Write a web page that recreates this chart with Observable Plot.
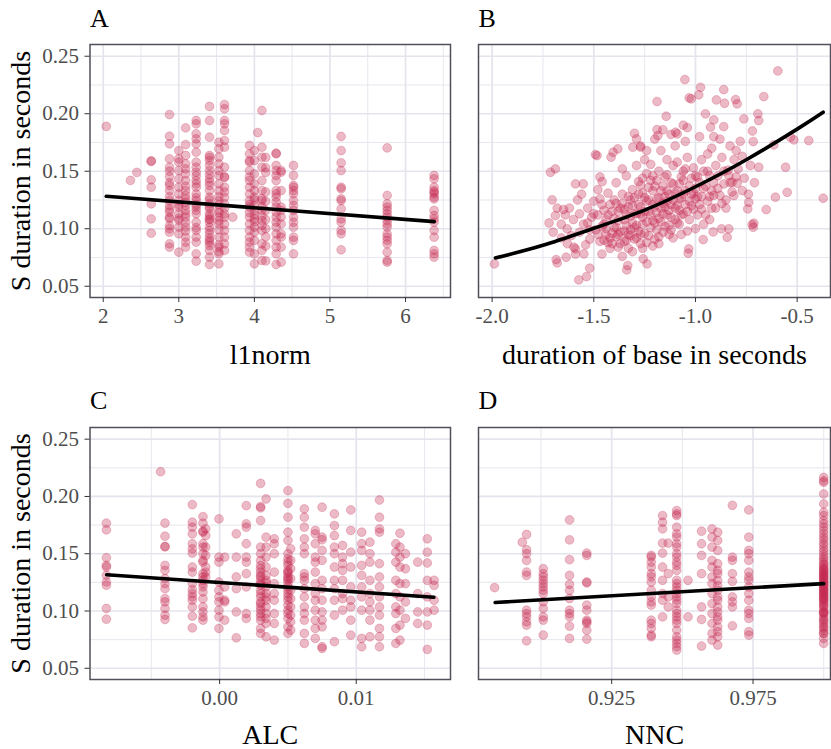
<!DOCTYPE html>
<html><head><meta charset="utf-8">
<script src="https://cdn.jsdelivr.net/npm/d3@7"></script>
<script src="https://cdn.jsdelivr.net/npm/@observablehq/plot@0.6"></script>
<style>
html,body{margin:0;padding:0;background:#fff;}
#chart{position:relative;width:831px;height:749px;font-family:"Liberation Serif",serif;}
#chart > svg{position:absolute;}
</style></head><body><div id="chart"></div>
<script>
// ---------- Panel A: l1norm (columns) ----------
const l1normX = [2.04, 2.36, 2.445, 2.635, 2.877, 3.0, 3.09, 3.23, 3.406, 3.53, 3.605, 3.714, 3.935, 4.0, 4.045, 4.10, 4.15, 4.288, 4.354, 4.518, 5.148, 5.757, 6.378];
const l1normDur = [
  [0.189],
  [0.142],
  [0.149],
  [0.1585, 0.1590, 0.1425, 0.1361, 0.1216, 0.1086, 0.0961],
  [0.1993, 0.1805, 0.1738, 0.1608, 0.1535, 0.1454, 0.1376, 0.1332, 0.1245, 0.1202, 0.1144, 0.1086, 0.1028, 0.0970, 0.0869, 0.0840, 0.150, 0.140, 0.128, 0.117, 0.110, 0.100],
  [0.1680, 0.1608, 0.1579, 0.1506, 0.1434, 0.1361, 0.1303, 0.1245, 0.1188, 0.1130, 0.1072, 0.1014, 0.0956, 0.0796, 0.121, 0.109],
  [0.1877, 0.1732, 0.1637, 0.1564, 0.1477, 0.1419, 0.1332, 0.1260, 0.1202, 0.1159, 0.1101, 0.1057, 0.1014, 0.0927, 0.0883, 0.0840, 0.152, 0.137, 0.129, 0.123, 0.113, 0.098],
  [0.1941, 0.1912, 0.1825, 0.1782, 0.1738, 0.1666, 0.1579, 0.1535, 0.1492, 0.1419, 0.1361, 0.1303, 0.1245, 0.1188, 0.1130, 0.1057, 0.0985, 0.0927, 0.0883, 0.0782, 0.0718, 0.127, 0.121, 0.116, 0.139, 0.146, 0.101],
  [0.2063, 0.1941, 0.1796, 0.1637, 0.1593, 0.1550, 0.1506, 0.1434, 0.1405, 0.1376, 0.1332, 0.1274, 0.1216, 0.1173, 0.1130, 0.1086, 0.1057, 0.1014, 0.0985, 0.0956, 0.0898, 0.0854, 0.0811, 0.0753, 0.0689, 0.125, 0.119, 0.111, 0.108, 0.092, 0.088, 0.147, 0.162],
  [0.1753, 0.1695, 0.1622, 0.1564, 0.1506, 0.1463, 0.1390, 0.1332, 0.1245, 0.1159, 0.1101, 0.1042, 0.0927, 0.0840, 0.0782, 0.0695, 0.128, 0.121, 0.114, 0.107, 0.099, 0.086, 0.080],
  [0.2080, 0.2043, 0.1941, 0.1912, 0.1854, 0.1767, 0.1709, 0.1535, 0.1448, 0.1361, 0.1274, 0.1216, 0.1101, 0.0985, 0.0927, 0.0869, 0.0811, 0.145, 0.132, 0.118, 0.113, 0.104],
  [0.1101],
  [0.1724, 0.1651, 0.1593, 0.1506, 0.1419, 0.1361, 0.1303, 0.1245, 0.1188, 0.1101, 0.1042, 0.0985, 0.0927, 0.0883, 0.0840, 0.0796, 0.158, 0.145, 0.121, 0.114],
  [0.1680, 0.1593, 0.1477, 0.1390, 0.1332, 0.1274, 0.1202, 0.1159, 0.1086, 0.1014, 0.0970, 0.0898, 0.0782, 0.0695, 0.125, 0.112, 0.106],
  [0.1836],
  [0.2028, 0.1709, 0.1622, 0.1535, 0.1419, 0.1332, 0.1245, 0.1159, 0.1072, 0.0985, 0.0869, 0.0811, 0.0724, 0.126, 0.119, 0.111, 0.103],
  [0.162, 0.153, 0.149, 0.132, 0.124, 0.116, 0.108, 0.100, 0.093, 0.085, 0.072],
  [0.1657, 0.1651, 0.1550, 0.1506, 0.1463, 0.1419, 0.1332, 0.1303, 0.1274, 0.1231, 0.1188, 0.1144, 0.1101, 0.1057, 0.1014, 0.0956, 0.0898, 0.0840, 0.0782, 0.0689],
  [0.1506, 0.1492, 0.1332, 0.1188, 0.1159, 0.1101, 0.1042, 0.0956, 0.0927, 0.0840, 0.0709],
  [0.1550, 0.1463, 0.1376, 0.1361, 0.1332, 0.1303, 0.1245, 0.1202, 0.1159, 0.1101, 0.1057, 0.1014, 0.0927, 0.0898, 0.0782],
  [0.1802, 0.1680, 0.1573, 0.1506, 0.1361, 0.1347, 0.1260, 0.1245, 0.1173, 0.1086, 0.1057, 0.0985, 0.0956, 0.0817],
  [0.1703, 0.1289, 0.1216, 0.1188, 0.1159, 0.1130, 0.1101, 0.1072, 0.1042, 0.1014, 0.0956, 0.0927, 0.0898, 0.0869, 0.0796, 0.0724, 0.0709],
  [0.1463, 0.1434, 0.1361, 0.1332, 0.1318, 0.1303, 0.1274, 0.1260, 0.1159, 0.1115, 0.1086, 0.1057, 0.0985, 0.0927, 0.0811, 0.0782, 0.0753]
];
const l1normFit = [[2.04, 0.1282], [6.38, 0.1062]];

// ---------- Panel B: duration of base (scatter) ----------
const basePoints = [
  [-1.989,0.0694],[-1.713,0.1491],[-1.689,0.152],[-1.705,0.1251],[-1.689,0.1114],[-1.680,0.0703],[-1.685,0.0732],
  [-1.636,0.0752],[-1.631,0.0999],[-1.590,0.139],[-1.552,0.139],[-1.574,0.0555],[-1.536,0.0584],[-1.520,0.0657],
  [-1.590,0.0825],[-1.598,0.0839],[-1.549,0.0781],[-1.492,0.1645],[-1.484,0.1636],[-1.415,0.1622],[-1.405,0.1665],
  [-1.382,0.1694],[-1.459,0.141],[-1.338,0.0642],[-1.333,0.068],[-1.300,0.183],[-1.290,0.1781],[-1.308,0.1709],
  [-1.270,0.1709],[-1.238,0.0694],[-1.257,0.0738],[-1.189,0.2106],[-1.144,0.1978],[-1.189,0.1862],[-1.185,0.181],
  [-1.098,0.1839],[-1.090,0.1825],[-1.052,0.2297],[-0.975,0.223],[-0.984,0.2164],[-1.021,0.2129],[-1.031,0.2138],
  [-0.861,0.221],[-0.897,0.212],[-0.857,0.2091],[-0.803,0.2123],[-0.795,0.2086],[-0.664,0.2149],[-0.595,0.2372],
  [-0.762,0.1955],[-0.693,0.1999],[-0.689,0.1941],[-0.443,0.1767],[-0.516,0.1772],[-0.533,0.1796],[-0.549,0.1317],
  [-0.607,0.1274],[-0.652,0.1167],[-0.372,0.1265],[-0.721,0.1036],[-0.713,0.1048],[-0.716,0.1013],[-0.844,0.0926],
  [-0.872,0.0999],[-0.836,0.0999],[-0.913,0.0972],[-0.962,0.0906],[-1.033,0.0825],[-1.036,0.0787],[-0.951,0.1999],
  [-0.910,0.1946],[-0.861,0.1888],[-0.926,0.1883],[-0.716,0.1758],[-0.615,0.1729],[-0.689,0.1535],[-0.557,0.1535],
  [-0.738,0.123],[-0.743,0.1172],[-0.811,0.1288],[-0.770,0.1332],[-0.795,0.1396],[-0.820,0.1404],[-0.836,0.1462],
  [-1.64,0.112],[-1.62,0.118],[-1.60,0.108],[-1.58,0.125],[-1.57,0.097],[-1.55,0.104],[-1.53,0.118],[-1.52,0.091],
  [-1.61,0.094],[-1.56,0.130],[-1.51,0.110],[-1.54,0.086],[-1.66,0.104],[-1.59,0.078],[-1.50,0.124],
  [-1.49,0.099],[-1.48,0.112],[-1.47,0.089],[-1.46,0.121],[-1.45,0.104],[-1.44,0.095],[-1.43,0.131],[-1.42,0.083],
  [-1.41,0.115],[-1.40,0.101],[-1.48,0.134],[-1.46,0.078],[-1.44,0.108],[-1.42,0.092],[-1.40,0.125],[-1.47,0.145],
  [-1.43,0.088],[-1.41,0.096],[-1.45,0.116],
  [-1.39,0.093],[-1.38,0.107],[-1.37,0.118],[-1.37,0.087],[-1.36,0.130],[-1.35,0.098],[-1.34,0.112],[-1.33,0.083],
  [-1.32,0.125],[-1.31,0.105],[-1.30,0.091],[-1.39,0.140],[-1.36,0.076],[-1.34,0.146],[-1.33,0.119],[-1.31,0.134],
  [-1.38,0.095],[-1.35,0.108],[-1.32,0.099],[-1.30,0.113],[-1.36,0.152],[-1.31,0.080],[-1.39,0.122],[-1.34,0.090],
  [-1.29,0.103],[-1.28,0.121],[-1.27,0.095],[-1.27,0.138],[-1.26,0.110],[-1.25,0.127],[-1.24,0.088],[-1.24,0.148],
  [-1.23,0.115],[-1.22,0.101],[-1.21,0.133],[-1.20,0.119],[-1.29,0.155],[-1.26,0.083],[-1.25,0.160],[-1.23,0.094],
  [-1.22,0.142],[-1.21,0.107],[-1.28,0.130],[-1.20,0.091],[-1.27,0.113],[-1.24,0.124],[-1.22,0.156],[-1.29,0.092],
  [-1.26,0.144],[-1.21,0.085],
  [-1.19,0.126],[-1.18,0.109],[-1.18,0.150],[-1.17,0.118],[-1.16,0.097],[-1.16,0.137],[-1.15,0.128],[-1.14,0.112],
  [-1.14,0.160],[-1.13,0.103],[-1.12,0.140],[-1.12,0.121],[-1.11,0.092],[-1.10,0.131],[-1.19,0.099],[-1.17,0.168],
  [-1.15,0.145],[-1.13,0.116],[-1.11,0.155],[-1.10,0.108],[-1.18,0.087],[-1.14,0.133],[-1.12,0.099],[-1.16,0.122],
  [-1.10,0.172],
  [-1.09,0.120],[-1.08,0.139],[-1.08,0.104],[-1.07,0.127],[-1.06,0.150],[-1.06,0.113],[-1.05,0.133],[-1.04,0.098],
  [-1.04,0.162],[-1.03,0.124],[-1.02,0.144],[-1.01,0.117],[-1.00,0.135],[-1.09,0.158],[-1.07,0.095],[-1.05,0.176],
  [-1.03,0.108],[-1.01,0.153],[-1.00,0.126],[-1.08,0.116],[-1.02,0.130],[-1.06,0.142],[-1.04,0.188],[-1.00,0.100],
  [-0.99,0.145],[-0.98,0.121],[-0.97,0.160],[-0.96,0.135],[-0.95,0.112],[-0.94,0.150],[-0.93,0.128],[-0.92,0.170],
  [-0.91,0.140],[-0.90,0.118],[-0.98,0.180],[-0.96,0.104],[-0.94,0.165],[-0.92,0.133],[-0.90,0.155],[-0.97,0.128],
  [-0.93,0.108],[-0.99,0.112],[-0.91,0.180],
  [-0.89,0.146],[-0.88,0.129],[-0.87,0.162],[-0.86,0.139],[-0.85,0.118],[-0.84,0.151],[-0.83,0.172],[-0.82,0.132],
  [-0.81,0.160],[-0.80,0.145],[-0.88,0.178],[-0.85,0.125],[-0.83,0.140],[-0.80,0.168],
  [-0.79,0.152],[-0.77,0.163],[-0.76,0.144],[-0.74,0.130],[-0.73,0.155],[-0.72,0.185],[-0.71,0.140],[-0.78,0.176],
  [-1.27,0.172],[-1.20,0.178],[-1.12,0.182],[-1.06,0.190],[-1.16,0.186],[-1.24,0.168],
  [-1.72,0.105],[-1.70,0.097],[-1.68,0.118],[-1.66,0.092],[-1.63,0.087],[-1.649,0.1167],
  [-1.44,0.100],[-1.43,0.112],[-1.42,0.121],[-1.41,0.087],[-1.40,0.109],[-1.39,0.101],[-1.38,0.115],[-1.37,0.097],
  [-1.36,0.122],[-1.35,0.089],[-1.35,0.117],[-1.34,0.103],[-1.33,0.128],[-1.32,0.094],[-1.32,0.111],[-1.31,0.120],
  [-1.30,0.101],[-1.30,0.127],[-1.29,0.113],[-1.28,0.098],[-1.28,0.141],[-1.27,0.119],[-1.26,0.104],[-1.26,0.131],
  [-1.25,0.096],[-1.25,0.115],[-1.24,0.106],[-1.23,0.136],[-1.23,0.125],[-1.22,0.112],[-1.21,0.121],[-1.21,0.146],
  [-1.20,0.105],[-1.20,0.137],[-1.19,0.114],[-1.19,0.142],[-1.18,0.127],[-1.17,0.106],[-1.17,0.133],[-1.16,0.113],
  [-1.15,0.119],[-1.15,0.102],[-1.14,0.124],[-1.14,0.147],[-1.13,0.130],[-1.12,0.110],[-1.11,0.125],[-1.11,0.139],
  [-1.10,0.118],[-1.09,0.133],[-1.09,0.105],[-1.08,0.126],[-1.07,0.145],[-1.07,0.112],[-1.06,0.130],[-1.05,0.121],
  [-1.05,0.152],[-1.04,0.115],[-1.03,0.137],[-1.02,0.120],[-1.01,0.131],[-1.00,0.146],[-0.99,0.128],[-0.98,0.140],
  [-0.97,0.117],[-0.96,0.150],[-0.95,0.137],[-0.94,0.124],[-0.93,0.146],[-0.92,0.118],[-0.91,0.129],[-0.89,0.135],
  [-0.87,0.122],[-0.86,0.150],[-1.52,0.099],[-1.50,0.113],[-1.48,0.095],[-1.47,0.126],[-1.46,0.102],[-1.45,0.090],
  [-1.53,0.105],[-1.57,0.113],[-1.38,0.084],[-1.33,0.095],[-1.27,0.087],[-1.18,0.093],[-1.13,0.095]
];
const baseFit = [[-1.984,0.0746],[-1.75,0.0856],[-1.5,0.1004],[-1.25,0.1162],[-1.0,0.1365],[-0.75,0.1600],[-0.5,0.1866],[-0.372,0.2013]];

// ---------- Panel C: ALC (columns) ----------
const alcX = [-0.00829, -0.00432, -0.00400, -0.0020, -0.00122, -0.00102, -0.00005, 0.00037, 0.00122, 0.00195, 0.0030, 0.0034, 0.0040, 0.0050, 0.0052, 0.0062, 0.0070, 0.0075, 0.0084, 0.0090, 0.0096, 0.0104, 0.0110, 0.0117, 0.0129, 0.0132, 0.0136, 0.0145, 0.0152, 0.0157];
const alcDur = [
  [0.1767, 0.1709, 0.1465, 0.1399, 0.1384, 0.1312, 0.1254, 0.1225, 0.1022, 0.0929],
  [0.2216],
  [0.1767, 0.1653, 0.1564, 0.1560, 0.1398, 0.1355, 0.1282, 0.1239, 0.1195, 0.1108, 0.1079, 0.1022, 0.0964, 0.0926],
  [0.1929, 0.1775, 0.1732, 0.1674, 0.1587, 0.1543, 0.1506, 0.1384, 0.1340, 0.1239, 0.1187, 0.1152, 0.1123, 0.1094, 0.1036, 0.0955, 0.0853],
  [0.1824, 0.1767, 0.1697, 0.1688, 0.1587, 0.1558, 0.1500, 0.1442, 0.1427, 0.1326, 0.1297, 0.1268, 0.1239, 0.1210, 0.1166, 0.1108, 0.1036, 0.0992, 0.0949, 0.0920],
  [0.1717, 0.1659, 0.1558, 0.1485, 0.1384, 0.1340, 0.1297],
  [0.1804, 0.1471, 0.1427, 0.1253, 0.1181, 0.1123, 0.1079, 0.1007, 0.0949, 0.0848],
  [0.1471, 0.1210, 0.1094, 0.1079, 0.0920],
  [0.1674, 0.1471, 0.1297, 0.1195, 0.0992, 0.0766],
  [0.1920, 0.1761, 0.1732, 0.1587, 0.1427, 0.1210, 0.0978, 0.0935, 0.1471, 0.1326],
  [0.2114, 0.1911, 0.1900, 0.1790, 0.1558, 0.1500, 0.1442, 0.1398, 0.1369, 0.1340, 0.1297, 0.1268, 0.1239, 0.1181, 0.1123, 0.1079, 0.1036, 0.1007, 0.0978, 0.0920, 0.0848, 0.0804, 0.1312, 0.1225, 0.1151, 0.1064, 0.0951],
  [0.1978, 0.1645, 0.1558, 0.1471, 0.1384, 0.1311, 0.1268, 0.1210, 0.1152, 0.1094, 0.1036, 0.0978, 0.0935, 0.0891, 0.0775, 0.1245, 0.1122],
  [0.1630, 0.1587, 0.1500, 0.1340, 0.1239, 0.1152, 0.1094, 0.0978, 0.0891, 0.0746],
  [0.2051, 0.1940, 0.1819, 0.1688, 0.1616, 0.1500, 0.1456, 0.1427, 0.1398, 0.1355, 0.1326, 0.1297, 0.1268, 0.1239, 0.1210, 0.1152, 0.1094, 0.1051, 0.1007, 0.0978, 0.0935, 0.0862, 0.0804, 0.1341, 0.1283, 0.1182, 0.1123],
  [0.1543, 0.1442, 0.1369, 0.1282, 0.1181, 0.1108, 0.1036, 0.0964, 0.0906, 0.0833],
  [0.1891, 0.1819, 0.1732, 0.1630, 0.1558, 0.1500, 0.1326, 0.1297, 0.1268, 0.1195, 0.1123, 0.1036, 0.0978, 0.0920, 0.0804, 0.0717],
  [0.1703, 0.1674, 0.1587, 0.1471, 0.1427, 0.1340, 0.1239, 0.1152, 0.1094, 0.1007, 0.0920, 0.0848, 0.0761],
  [0.1906, 0.1645, 0.1622, 0.1529, 0.1442, 0.1268, 0.1195, 0.1094, 0.0992, 0.0920, 0.0862, 0.0688, 0.0674],
  [0.1848, 0.1746, 0.1659, 0.1558, 0.1500, 0.1384, 0.1268, 0.1195, 0.1094, 0.0964, 0.0732],
  [0.1572, 0.1471, 0.1413, 0.1355, 0.1268, 0.1152, 0.1108, 0.1007],
  [0.1882, 0.1703, 0.1514, 0.1384, 0.1210, 0.1094, 0.1036, 0.0920, 0.0790],
  [0.1688, 0.1587, 0.1529, 0.1398, 0.1311, 0.1210, 0.1123, 0.1007, 0.0761, 0.0688],
  [0.1601, 0.1500, 0.1427, 0.1268, 0.1152, 0.1079, 0.1007, 0.0920, 0.0775],
  [0.1969, 0.1819, 0.1717, 0.1688, 0.1413, 0.1297, 0.1210, 0.1123, 0.1036, 0.0964, 0.0848, 0.0775, 0.0688],
  [0.1587, 0.1514, 0.1427, 0.1268, 0.1152, 0.1036, 0.0978, 0.0848, 0.0717],
  [0.1679, 0.1558, 0.1471, 0.1384, 0.1239, 0.1123, 0.1007, 0.0877, 0.0746],
  [0.1500, 0.1369, 0.1239, 0.1079, 0.0935],
  [0.1427, 0.1152, 0.0992, 0.0891],
  [0.1630, 0.1514, 0.1419, 0.1268, 0.1123, 0.0992, 0.0877, 0.0665],
  [0.1268, 0.1224, 0.1094, 0.1007]
];
const alcFit = [[-0.00827, 0.1317], [0.01568, 0.1120]];

// ---------- Panel D: NNC (columns) ----------
const nncX = [0.8836, 0.8934, 0.8949, 0.9008, 0.9101, 0.9162, 0.939, 0.943, 0.945, 0.948, 0.952, 0.9568, 0.9605, 0.9625, 0.9677, 0.9735, 1.0];
const nncDur = [
  [0.1204],
  [0.1601],
  [0.1668, 0.1535, 0.1500, 0.1442, 0.1340, 0.1311, 0.1007, 0.0978, 0.0949, 0.0906, 0.0877, 0.0740],
  [0.1369, 0.1326, 0.1297, 0.1268, 0.1239, 0.1210, 0.1181, 0.1152, 0.1080, 0.1022, 0.0949, 0.0920, 0.0790],
  [0.1795, 0.1621, 0.1448, 0.1311, 0.1233, 0.1181, 0.1109, 0.1007, 0.0978, 0.0949, 0.0868, 0.0761],
  [0.1506, 0.1485, 0.1253, 0.1245, 0.1051, 0.1007, 0.0920, 0.0906, 0.0891, 0.0833, 0.0755],
  [0.1485, 0.1471, 0.1427, 0.1384, 0.1326, 0.1297, 0.1253, 0.1181, 0.1123, 0.1079, 0.1051, 0.0920, 0.0891, 0.0848, 0.0790, 0.0775],
  [0.1833, 0.1775, 0.1717, 0.1593, 0.1506, 0.1384, 0.1268, 0.1152, 0.1094, 0.0949],
  [0.1593, 0.1326, 0.1123, 0.1036],
  [0.1877, 0.1848, 0.1833, 0.1732, 0.1674, 0.1645, 0.1587, 0.1558, 0.1500, 0.1471, 0.1427, 0.1398, 0.1355, 0.1268, 0.1239, 0.1210, 0.1181, 0.1152, 0.1123, 0.1094, 0.1065, 0.1007, 0.0978, 0.0949, 0.0920, 0.0891, 0.0833, 0.0775, 0.0746, 0.0717, 0.0688, 0.0659],
  [0.1268, 0.0949],
  [0.1697, 0.1587, 0.1485, 0.1326, 0.1036, 0.0926, 0.0694],
  [0.1717, 0.1645, 0.1558, 0.1442, 0.1384, 0.1297, 0.1239, 0.1152, 0.1065, 0.0978, 0.0891, 0.0804, 0.0746],
  [0.1688, 0.1616, 0.1529, 0.1413, 0.1355, 0.1326, 0.1268, 0.1224, 0.1181, 0.1123, 0.1094, 0.1036, 0.0992, 0.0949, 0.0920, 0.0862, 0.0819, 0.0775, 0.0703],
  [0.1923, 0.1471, 0.1442, 0.1326, 0.1259, 0.1123, 0.1079, 0.1036, 0.0871],
  [0.1882, 0.1645, 0.1529, 0.1500, 0.1442, 0.1340, 0.1297, 0.1268, 0.1210, 0.1152, 0.1094, 0.1007, 0.0978, 0.0935, 0.0819, 0.0790],
  [0.2166, 0.2137, 0.2123, 0.2022, 0.1935, 0.1862, 0.1833, 0.1790, 0.1761, 0.1732, 0.1703, 0.1674, 0.1645,
   0.1622, 0.1593, 0.1571, 0.1542, 0.1519, 0.1493, 0.1468, 0.1451, 0.1428, 0.1402, 0.1381, 0.1362, 0.1339, 0.1318, 0.1297,
   0.1281, 0.1259, 0.1238, 0.1222, 0.1197, 0.1183, 0.1161, 0.1142, 0.1118, 0.1101, 0.1079, 0.1062, 0.1039, 0.1021, 0.0998,
   0.0982, 0.0953, 0.0931, 0.0902, 0.0884, 0.0851, 0.0829, 0.0803, 0.0978, 0.0920, 0.0862, 0.0804, 0.0761, 0.0717,
   0.131, 0.127, 0.121, 0.117, 0.113, 0.109, 0.125, 0.119, 0.111, 0.105, 0.135, 0.141, 0.099, 0.115, 0.123, 0.133, 0.129, 0.137]
];
const nncFit = [[0.8838, 0.1074], [1.0, 0.1239]];

// ---------- shared y ----------
const yDomain = [0.0402, 0.2602];
const yMajor = [0.05, 0.10, 0.15, 0.20, 0.25];
const yMinor = [0.075, 0.125, 0.175, 0.225];
const yTitle = "S duration in seconds";

const POINT = "#C4264F";
const GRID = "#e4e4ed";
const FRAME = "#50505a";
const TICKTXT = "#4d4d4d";

function fromCols(xs, ys) {
  const out = [];
  xs.forEach((x, i) => ys[i].forEach(y => out.push({x, y})));
  return out;
}

function panel(o) {
  const marks = [
    Plot.ruleX(o.xMinor, {stroke: GRID, strokeWidth: 0.9}),
    Plot.ruleY(yMinor, {stroke: GRID, strokeWidth: 0.9}),
    Plot.ruleX(o.xMajor, {stroke: GRID, strokeWidth: 1.7}),
    Plot.ruleY(yMajor, {stroke: GRID, strokeWidth: 1.7}),
    Plot.dot(o.pts, {x: "x", y: "y", r: 4.4, fill: POINT, fillOpacity: 0.32, stroke: POINT, strokeOpacity: 0.32, strokeWidth: 0.8}),
    Plot.line(o.fit, {x: d => d[0], y: d => d[1], curve: o.curve || "linear", stroke: "black", strokeWidth: 3.6}),
    Plot.frame({stroke: FRAME, strokeWidth: 1.5}),
    // tick marks only (labels drawn as text below)
    Plot.axisX(o.xMajor, {tickSize: 5, tickFormat: () => "", color: "#333", label: null}),
    Plot.text(o.xMajor, {x: d => d, text: o.xFormat, frameAnchor: "bottom", dy: 25.7, lineAnchor: "bottom", textAnchor: "middle", fontSize: 21, fill: TICKTXT}),
    Plot.text([o.letter], {frameAnchor: "top-left", dy: o.letterDy, lineAnchor: "bottom", textAnchor: "start", fontSize: 26, fill: "black"}),
    Plot.text([o.xTitle], {frameAnchor: "bottom", dy: o.titleDy, lineAnchor: "bottom", textAnchor: "middle", fontSize: 28, fill: "black"})
  ];
  if (o.showY) {
    marks.push(Plot.axisY(yMajor, {tickSize: 5, tickFormat: () => "", color: "#333", label: null}));
    marks.push(Plot.text(yMajor, {y: d => d, text: d => d.toFixed(2), frameAnchor: "left", dx: -11, textAnchor: "end", lineAnchor: "middle", fontSize: 21, fill: TICKTXT}));
    marks.push(Plot.text([yTitle], {frameAnchor: "left", dx: -60, rotate: -90, lineAnchor: "bottom", textAnchor: "middle", fontSize: 28, fill: "black"}));
  }
  const svg = Plot.plot({
    width: o.width, height: o.height,
    marginLeft: o.mL, marginRight: o.mR, marginTop: o.mT, marginBottom: o.mB,
    x: {domain: o.xDomain},
    y: o.showY ? {domain: yDomain} : {domain: yDomain, axis: null},
    style: {fontFamily: "Liberation Serif, serif", fontSize: "21px", background: "transparent", overflow: "visible"},
    marks
  });
  svg.style.position = "absolute";
  svg.style.left = o.left + "px";
  svg.style.top = o.top + "px";
  document.getElementById("chart").appendChild(svg);
}

panel({
  pts: fromCols(l1normX, l1normDur), fit: l1normFit,
  xDomain: [1.825, 6.595], xMajor: [2, 3, 4, 5, 6], xMinor: [2.5, 3.5, 4.5, 5.5, 6.5], xFormat: d => String(d),
  xTitle: "l1norm", letter: "A", letterDy: -17.5, titleDy: 66, showY: true,
  left: 0, top: 0, width: 452, height: 378, mL: 89.5, mR: 2, mT: 44, mB: 81
});
panel({
  pts: basePoints.map(([x, y]) => ({x, y})), fit: baseFit, curve: "natural",
  xDomain: [-2.067, -0.336], xMajor: [-2, -1.5, -1, -0.5], xMinor: [-1.75, -1.25, -0.75], xFormat: d => d.toFixed(1),
  xTitle: "duration of base in seconds", letter: "B", letterDy: -17.5, titleDy: 66, showY: false,
  left: 452, top: 0, width: 379, height: 378, mL: 26, mR: 1, mT: 44, mB: 81
});
panel({
  pts: fromCols(alcX, alcDur), fit: alcFit,
  xDomain: [-0.00949, 0.0169], xMajor: [0, 0.01], xMinor: [-0.005, 0.005, 0.015], xFormat: d => d.toFixed(2),
  xTitle: "ALC", letter: "C", letterDy: -18.5, titleDy: 64.5, showY: true,
  left: 0, top: 378, width: 452, height: 371, mL: 89.5, mR: 2, mT: 49, mB: 70
});
panel({
  pts: fromCols(nncX, nncDur), fit: nncFit,
  xDomain: [0.8779, 1.0024], xMajor: [0.925, 0.975], xMinor: [0.9, 0.95, 1.0], xFormat: d => d.toFixed(3),
  xTitle: "NNC", letter: "D", letterDy: -18.5, titleDy: 64.5, showY: false,
  left: 452, top: 378, width: 379, height: 371, mL: 26, mR: 1, mT: 49, mB: 70
});
</script></body></html>
